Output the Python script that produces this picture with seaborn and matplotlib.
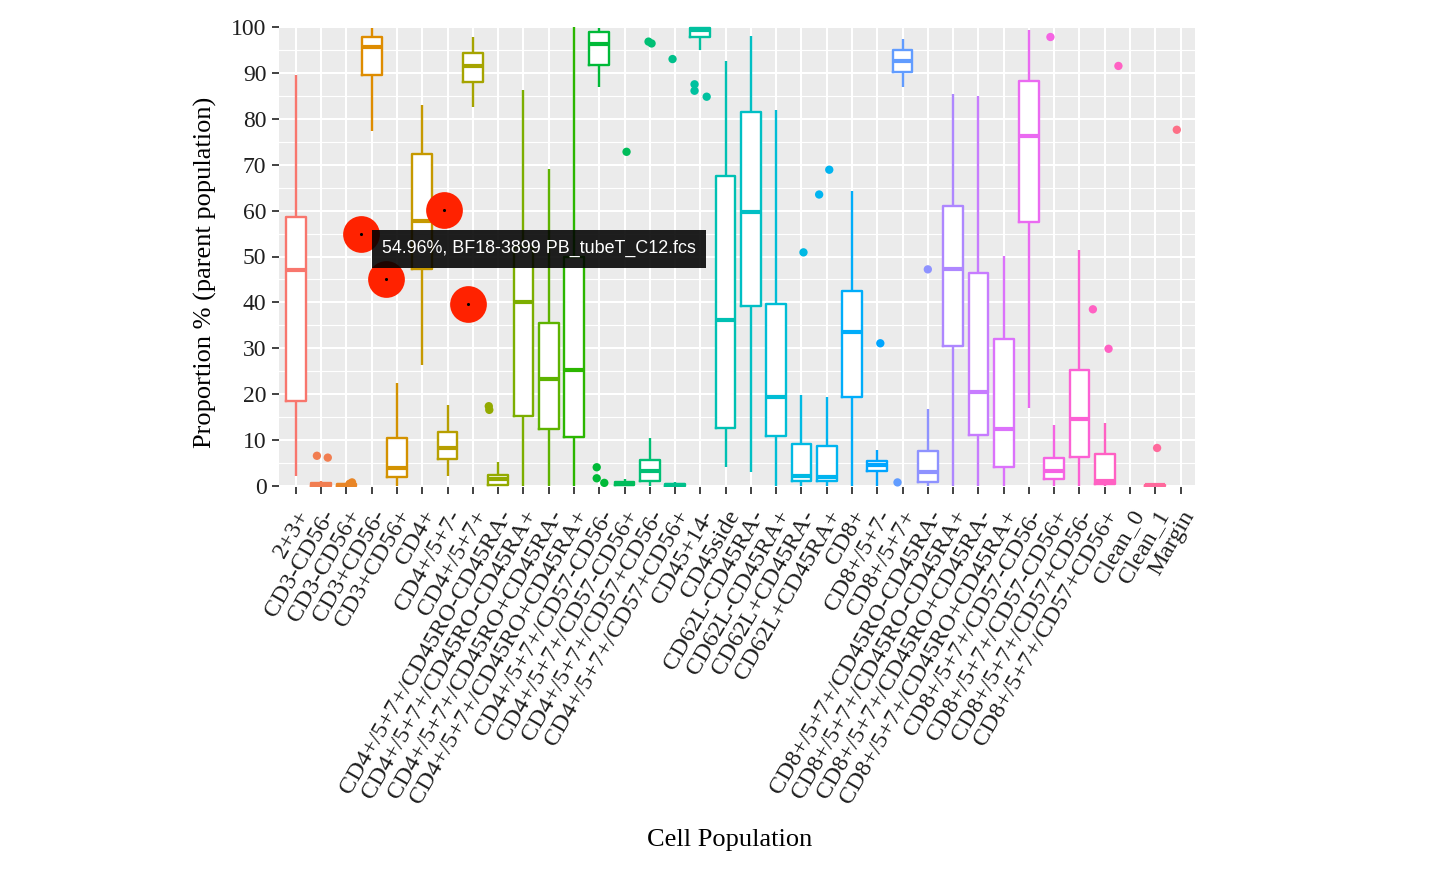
import numpy as np
import pandas as pd
import matplotlib
matplotlib.use("Agg")
import matplotlib.pyplot as plt
import seaborn as sns
from matplotlib.ticker import MultipleLocator

# ---------------- data ----------------
categories = [
    "2+3+", "CD3-CD56-", "CD3-CD56+", "CD3+CD56-", "CD3+CD56+", "CD4+",
    "CD4+/5+7-", "CD4+/5+7+",
    "CD4+/5+7+/CD45RO-CD45RA-", "CD4+/5+7+/CD45RO-CD45RA+",
    "CD4+/5+7+/CD45RO+CD45RA-", "CD4+/5+7+/CD45RO+CD45RA+",
    "CD4+/5+7+/CD57-CD56-", "CD4+/5+7+/CD57-CD56+",
    "CD4+/5+7+/CD57+CD56-", "CD4+/5+7+/CD57+CD56+",
    "CD45+14-", "CD45side",
    "CD62L-CD45RA-", "CD62L-CD45RA+", "CD62L+CD45RA-", "CD62L+CD45RA+",
    "CD8+", "CD8+/5+7-", "CD8+/5+7+",
    "CD8+/5+7+/CD45RO-CD45RA-", "CD8+/5+7+/CD45RO-CD45RA+",
    "CD8+/5+7+/CD45RO+CD45RA-", "CD8+/5+7+/CD45RO+CD45RA+",
    "CD8+/5+7+/CD57-CD56-", "CD8+/5+7+/CD57-CD56+",
    "CD8+/5+7+/CD57+CD56-", "CD8+/5+7+/CD57+CD56+",
    "Clean_0", "Clean_1", "Margin",
]

# five-number summaries (None = no box)
whisker_low = [2.2, 0, 0, 77.4, 0, 26.4, 2.2, 82.5, 0, 0, 0, 0, 87.0, 0, 0, 0,
               95.0, 4.1, 3.0, 0, 0, 0, 0, 0, 87.0, 0, 0, 0, 0, 17.1, 0, 0, 0,
               None, 0, None]
quart_1 = [18.5, 0.1, 0.1, 89.6, 2.0, 47.2, 5.9, 88.1, 0.3, 15.3, 12.5, 10.7,
           91.7, 0.2, 1.2, 0.1, 97.9, 12.6, 39.3, 10.9, 1.2, 1.2, 19.4, 3.3,
           90.1, 0.8, 30.4, 11.2, 4.2, 57.5, 1.5, 6.4, 0.4, None, 0.05, None]
medians = [47.0, 0.3, 0.2, 95.7, 3.9, 57.7, 8.4, 91.4, 1.5, 40.1, 23.3, 25.2,
           96.2, 0.5, 3.3, 0.3, 99.3, 36.1, 59.6, 19.4, 2.3, 1.9, 33.6, 4.6,
           92.5, 3.0, 47.2, 20.4, 12.5, 76.2, 3.3, 14.6, 1.2, None, 0.15, None]
quart_3 = [58.5, 0.6, 0.4, 97.9, 10.4, 72.3, 11.7, 94.3, 2.5, 52.0, 35.6, 50.0,
           99.0, 0.9, 5.6, 0.5, 99.8, 67.5, 81.4, 39.6, 9.1, 8.8, 42.5, 5.5,
           95.0, 7.7, 60.9, 46.4, 32.0, 88.3, 6.2, 25.2, 7.0, None, 0.3, None]
whisker_high = [89.6, 1.2, 0.6, 99.7, 22.5, 83.0, 17.7, 97.9, 5.2, 86.3, 69.1,
                100.0, 99.7, 1.5, 10.4, 0.8, 100.0, 92.5, 98.1, 82.0, 19.9,
                19.3, 64.2, 7.8, 97.4, 16.7, 85.4, 85.0, 50.1, 99.3, 13.3,
                51.5, 13.8, None, 0.5, None]

# outliers
outlier_cat = ["CD3-CD56-", "CD3-CD56-", "CD3-CD56+", "CD3-CD56+",
               "CD4+/5+7+/CD45RO-CD45RA-", "CD4+/5+7+/CD45RO-CD45RA-",
               "CD4+/5+7+/CD57-CD56-", "CD4+/5+7+/CD57-CD56-", "CD4+/5+7+/CD57-CD56-",
               "CD4+/5+7+/CD57-CD56+",
               "CD4+/5+7+/CD57+CD56-", "CD4+/5+7+/CD57+CD56-",
               "CD4+/5+7+/CD57+CD56+",
               "CD45+14-", "CD45+14-", "CD45+14-",
               "CD62L+CD45RA-", "CD62L+CD45RA+", "CD62L+CD45RA+",
               "CD8+/5+7-", "CD8+/5+7+", "CD8+/5+7+/CD45RO-CD45RA-",
               "CD8+/5+7+/CD57-CD56+",
               "CD8+/5+7+/CD57+CD56+", "CD8+/5+7+/CD57+CD56+", "CD8+/5+7+/CD57+CD56+",
               "Clean_1", "Margin"]
outlier_val = [6.6, 6.2, 0.8, 0.5,
               17.4, 16.6,
               4.1, 1.7, 0.7,
               72.8,
               96.8, 96.4,
               93.0,
               87.5, 86.1, 84.8,
               50.9, 68.9, 63.5,
               31.1, 0.8, 47.2,
               97.8,
               38.5, 29.9, 91.5,
               8.3, 77.6]
outlier_dx = [-0.17, 0.26, 0.22, 0.12,
              -0.37, -0.35,
              -0.1, -0.1, 0.2,
              0.08,
              -0.05, 0.07,
              -0.1,
              -0.23, -0.23, 0.25,
              0.08, 0.1, -0.3,
              0.12, -0.2, 0.0,
              -0.15,
              -0.47, 0.15, 0.54,
              0.07, -0.15]

# highlighted (hovered) sample points
highlight_pos = [2.57, 3.56, 5.86, 6.79]
highlight_val = [54.96, 45.0, 60.2, 39.7]
tooltip_text = "54.96%, BF18-3899 PB_tubeT_C12.fcs"

# ---------------- colours (ggplot2 hue palette) ----------------
def hcl_hex(h, c=100.0, l=65.0):
    hr = np.deg2rad(h)
    U, V = c * np.cos(hr), c * np.sin(hr)
    Xn, Yn, Zn = 95.047, 100.0, 108.883
    den = Xn + 15 * Yn + 3 * Zn
    un, vn = 4 * Xn / den, 9 * Yn / den
    Y = Yn * ((l + 16) / 116) ** 3
    u = U / (13 * l) + un
    v = V / (13 * l) + vn
    X = 9.0 * Y * u / (4 * v)
    Z = -X / 3 - 5 * Y + 3 * Y / v
    M = np.array([[3.240479, -1.537150, -0.498535],
                  [-0.969256, 1.875992, 0.041556],
                  [0.055648, -0.204043, 1.057311]])
    rgb = M @ (np.array([X, Y, Z]) / 100.0)
    rgb = np.where(rgb <= 0.0031308, 12.92 * rgb,
                   1.055 * np.sign(rgb) * np.abs(rgb) ** (1 / 2.4) - 0.055)
    rgb = np.clip(rgb, 0, 1)
    return matplotlib.colors.to_hex(rgb)

hues = np.linspace(15, 375, len(categories) + 1)[:-1]
palette = {cat: hcl_hex(h) for cat, h in zip(categories, hues)}

# ---------------- long data ----------------
rows = []
for i, cat in enumerate(categories):
    if medians[i] is None:
        continue
    for v in (whisker_low[i], quart_1[i], medians[i], quart_3[i], whisker_high[i]):
        rows.append((cat, v))
df = pd.DataFrame(rows, columns=["cat", "val"])

out_df = pd.DataFrame({"cat": outlier_cat, "val": outlier_val, "dx": outlier_dx})
out_df["pos"] = [categories.index(c) for c in out_df["cat"]] + out_df["dx"]

hl_df = pd.DataFrame({"pos": highlight_pos, "val": highlight_val})

# ---------------- figure ----------------
plt.rcParams["font.family"] = ["Liberation Serif", "DejaVu Serif"]
fig = plt.figure(figsize=(14.3, 8.86), dpi=100)
ax = fig.add_axes([279 / 1430, 1 - 487 / 886, (1195 - 279) / 1430, (487 - 26) / 886])
ax.set_facecolor("#EBEBEB")

box_kw = dict(data=df, x="cat", y="val", order=categories, whis=(0, 100),
              showfliers=False, showcaps=False, width=0.78, ax=ax)
# white fill
sns.boxplot(color="white", linecolor="white", fill=True, linewidth=0,
            saturation=1, **box_kw)
# coloured outlines
sns.boxplot(hue="cat", hue_order=categories, palette=palette, fill=False,
            linewidth=1.7, legend=False, medianprops={"linewidth": 3.0},
            **box_kw)

sns.scatterplot(data=out_df, x="pos", y="val", hue="cat", palette=palette,
                s=36, linewidth=0, legend=False, ax=ax, zorder=4)

sns.scatterplot(data=hl_df, x="pos", y="val", color="#FF2200", s=700,
                linewidth=0, legend=False, ax=ax, zorder=5)
sns.scatterplot(data=hl_df, x="pos", y="val", color="black", s=5,
                linewidth=0, legend=False, ax=ax, zorder=6)

ax.annotate(tooltip_text, xy=(highlight_pos[0], highlight_val[0]),
            xytext=(21, -15), textcoords="offset pixels",
            ha="left", va="center", color="white", fontsize=12.9,
            family=["Liberation Sans", "DejaVu Sans"], zorder=7,
            bbox=dict(boxstyle="square,pad=0.58", facecolor="black",
                      edgecolor="none", alpha=0.88))

# axes styling
ax.set_xlim(-0.67, len(categories) - 1 + 0.57)
ax.set_ylim(-0.2, 100.2)
ax.yaxis.set_major_locator(MultipleLocator(10))
ax.yaxis.set_minor_locator(MultipleLocator(5))
ax.set_axisbelow(True)
ax.grid(which="major", axis="both", color="white", linewidth=1.5)
ax.grid(which="minor", axis="y", color="white", linewidth=0.8)
for s in ax.spines.values():
    s.set_visible(False)

ax.tick_params(axis="both", which="major", length=5, width=1.3,
               color="#333333", labelcolor="#1f1f1f")
ax.tick_params(axis="y", which="minor", length=0)
ax.tick_params(axis="y", labelsize=17, pad=4)
ax.tick_params(axis="x", labelsize=17.5, pad=9)
ax.set_xticks(range(len(categories)))
ax.set_xticklabels(categories, rotation=60, ha="right", va="top",
                   rotation_mode="anchor")

ax.set_xlabel("Cell Population", fontsize=19, color="black")
ax.set_ylabel("Proportion % (parent population)", fontsize=19, color="black")
ax.xaxis.set_label_coords((730 - 279) / 916, (487 - 840) / 461)
ax.xaxis.label.set_va("center")
ax.yaxis.set_label_coords((205 - 279) / 916, (487 - 272) / 461)
ax.yaxis.label.set_va("center")

fig.savefig("out.png", dpi=100, facecolor="white")
